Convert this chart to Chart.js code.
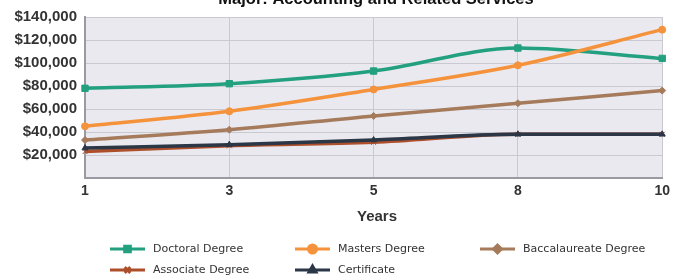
<!DOCTYPE html>
<html><head><meta charset="utf-8">
<script src="https://cdn.jsdelivr.net/npm/chart.js@4"></script>
<style>html,body{margin:0;padding:0;background:#fff;}#wrap{width:675px;height:280px;}</style>
</head><body><div id="wrap"><canvas id="c" width="675" height="280"></canvas></div>
<script>
const years = ['1','3','5','8','10'];
const doctoral = [78000, 82000, 93000, 113000, 104000];
const masters = [45000, 58000, 77000, 98000, 129000];
const baccalaureate = [33000, 42000, 54000, 65000, 76000];
const associate = [23000, 28000, 31000, 38000, 38000];
const certificate = [26000, 29000, 33000, 38000, 38000];
const seriesNames = ['Doctoral Degree','Masters Degree','Baccalaureate Degree','Associate Degree','Certificate'];
const yTicks = [0,20000,40000,60000,80000,100000,120000,140000];
const titleText = 'Major: Accounting and Related Services';
const xTitle = 'Years';

const colors = ['#22a07f','#f5923c','#a57b5b','#ae4f2b','#2b3746'];
const styles = ['rect','circle','rectRot','crossRot','triangle'];
const drawOrder = [3,1,2,4,0];
const datas = [doctoral, masters, baccalaureate, associate, certificate];

const bgPlugin = {
  id:'bg',
  beforeDraw(chart){
    const {ctx, chartArea:a} = chart;
    ctx.save(); ctx.fillStyle='#e9e9ef'; ctx.fillRect(a.left,a.top,a.right-a.left,a.bottom-a.top); ctx.restore();
  },
  afterDraw(chart){
    const {ctx} = chart;
    ctx.save();
    ctx.fillStyle='#111'; ctx.font='bold 16.5px "Liberation Sans", Arial, sans-serif';
    ctx.textAlign='center'; ctx.textBaseline='alphabetic';
    ctx.fillText(titleText, 376, 4);
    ctx.fillStyle='#333'; ctx.font='bold 15px "Liberation Sans", Arial, sans-serif';
    ctx.fillText(xTitle, 377, 221);
    // legend
    const pos = [[110,249],[295,249],[480,249],[110,270],[295,270]];
    ctx.font='11px "DejaVu Sans", sans-serif'; ctx.textAlign='left'; ctx.textBaseline='middle';
    chart.data.datasets.forEach((ds,i)=>{
      const [x,y]=pos[i];
      ctx.strokeStyle=ds.borderColor; ctx.lineWidth=3;
      ctx.beginPath(); ctx.moveTo(x,y); ctx.lineTo(x+35,y); ctx.stroke();
      ctx.fillStyle=ds.borderColor;
      Chart.helpers.drawPoint(ctx,{pointStyle:ds.pointStyle,radius:4,borderWidth:1},x+17.5,y);
      ctx.fillStyle='#333';
      ctx.fillText(ds.label, x+43, y);
    });
    ctx.restore();
  }
};

new Chart(document.getElementById('c'),{
  type:'line',
  data:{labels:years, datasets:datas.map((d,i)=>({
    label:seriesNames[i], data:d, borderColor:colors[i], backgroundColor:colors[i],
    borderWidth:3.5, pointStyle:styles[i], pointRadius:i===0?4.5:3.5, pointBorderWidth:1,
    pointBorderColor:colors[i], cubicInterpolationMode:'monotone', fill:false, order:drawOrder[i]
  }))},
  options:{
    responsive:false, animation:false,
    layout:{padding:{top:15,right:0,left:0,bottom:0}},
    plugins:{legend:{display:false}, tooltip:{enabled:false}, title:{display:false}},
    scales:{
      x:{
        offset:false,
        grid:{color:'#c9c9d1', lineWidth:1, drawTicks:false},
        border:{color:'#9a9aa2', width:2},
        ticks:{color:'#333', font:{family:'"Liberation Sans", Arial, sans-serif', size:14, weight:'bold'}, padding:5, maxRotation:0, autoSkip:false},
        afterFit(s){ s.height = 102; }
      },
      y:{
        min:0, max:140000,
        afterBuildTicks(s){ s.ticks = yTicks.map(v=>({value:v})); },
        grid:{color:'#c9c9d1', lineWidth:1, drawTicks:false},
        border:{color:'#9a9aa2', width:2},
        ticks:{color:'#333', font:{family:'"Liberation Sans", Arial, sans-serif', size:15, weight:'bold'}, padding:8,
          callback:(v)=> v===0 ? '' : '$' + v.toLocaleString('en-US')},
        afterFit(s){ s.width = 85; }
      }
    }
  },
  plugins:[bgPlugin]
});
</script></body></html>
